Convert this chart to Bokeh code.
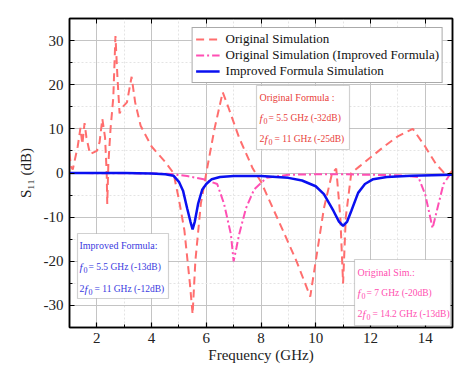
from bokeh.plotting import figure
from bokeh.models import (FixedTicker, LinearAxis, Range1d, Legend, LegendItem,
                          BoxAnnotation, Label)
from bokeh.embed import file_html
from bokeh.resources import INLINE

# ---------------- data ----------------
freq_orig = [1.0, 1.05, 1.12, 1.3, 1.4, 1.47, 1.55, 1.62, 1.75, 2.0, 2.1, 2.2, 2.3, 2.36,
             2.38, 2.42, 2.5, 2.6, 2.68, 2.75, 2.83, 2.95, 3.1, 3.27, 3.4, 3.6, 4.0, 4.5,
             4.8, 5.0, 5.2, 5.4, 5.5, 5.6, 5.8, 6.0, 6.3, 6.6, 6.8, 7.2, 7.7, 8.0, 8.4,
             8.8, 9.3, 9.8, 10.0, 10.3, 10.6, 10.75, 10.9, 11.0, 11.1, 11.3, 11.6, 12.0,
             12.5, 13.0, 13.55, 14.0, 14.4, 14.8, 15.0]
s11_orig = [4.5, 1.5, 0.8, 6.0, 10.2, 6.5, 11.3, 8.0, 4.3, 5.0, 7.0, 12.3, 8.0, 0.0,
            -7.0, 2.0, 10.0, 17.0, 31.0, 22.0, 13.5, 15.0, 16.0, 21.8, 16.0, 10.7, 6.0, 2.5,
            0.0, -6.0, -13.0, -25.0, -32.0, -20.0, -7.0, 0.0, 10.0, 18.3, 15.0, 8.0, 1.0, -2.0,
            -7.5, -13.0, -20.0, -28.0, -20.0, -8.0, 0.0, 1.0, -10.0, -25.0, -10.0, 0.0, 1.5,
            3.5, 6.0, 8.3, 10.0, 6.0, 2.0, -0.7, 0.5]

freq_orig_impr = [1.0, 4.0, 4.7, 5.3, 5.9, 6.4, 6.65, 6.9, 7.0, 7.1, 7.2, 7.45, 7.75, 8.2,
                  9.0, 10.0, 11.0, 12.0, 13.0, 13.75, 14.0, 14.15, 14.27, 14.45, 14.67,
                  14.9, 15.0]
s11_orig_impr = [0.0, -0.1, -0.2, -0.7, -1.4, -2.5, -7.0, -13.9, -20.0, -17.0, -13.9, -8.0,
                 -3.7, -1.1, -0.4, -0.3, -0.3, -0.4, -0.5, -0.9, -4.8, -9.0, -12.5, -8.0,
                 -2.5, -0.4, 0.0]

freq_impr = [1.0, 3.0, 4.0, 4.5, 4.8, 5.0, 5.15, 5.3, 5.42, 5.5, 5.58, 5.7, 5.85, 6.0, 6.2,
             6.5, 7.0, 8.0, 9.0, 9.5, 10.0, 10.3, 10.65, 10.85, 11.0, 11.15, 11.3, 11.55,
             11.8, 12.1, 12.6, 13.5, 15.0]
s11_impr = [0.0, 0.0, -0.1, -0.3, -0.6, -2.0, -4.0, -8.0, -11.0, -12.8, -11.0, -7.0, -3.8,
            -2.5, -1.4, -0.9, -0.7, -0.7, -1.1, -1.7, -3.0, -4.8, -8.6, -11.0, -12.0, -11.0,
            -8.6, -4.5, -2.5, -1.4, -0.9, -0.6, -0.4]

series_names = ["Original Simulation", "Original Simulation (Improved Formula)",
                "Improved Formula Simulation"]

x_major = [2, 4, 6, 8, 10, 12, 14]
x_minor = list(range(1, 16))
y_major = [-30, -20, -10, 0, 10, 20, 30]
y_labels = ["-30", "-20", "-10", "0", "10", "20", "30"]
y_minor = list(range(-35, 36, 5))

box_texts = {
    "orig_formula": ["Original Formula :", "= 5.5 GHz (-32dB)", "= 11 GHz (-25dB)"],
    "impr_formula": ["Improved Formula:", "= 5.5 GHz (-13dB)", "= 11 GHz (-12dB)"],
    "orig_sim": ["Original Sim.:", "= 7 GHz (-20dB)", "= 14.2 GHz (-13dB)"],
}

# ---------------- styling ----------------
SERIF = "Liberation Serif"
C_DASH = "#FF6E6E"
C_DASHDOT = "#FF4FB4"
C_BLUE = "#0A10F0"
TXT = "#222222"

X0, X1, Y0, Y1 = 1, 15, -35, 35
# frame in image pixels (reference): left 69, right 452, top 18, bottom 327
def px2x(px):
    return X0 + (px - 69) * (X1 - X0) / 383.0

def py2y(py):
    return Y1 - (py - 18) * (Y1 - Y0) / 309.0

p = figure(width=463, height=369, output_backend="svg", toolbar_location=None,
           x_range=Range1d(X0, X1), y_range=Range1d(Y0, Y1),
           min_border_left=69, min_border_right=11, min_border_top=18,
           min_border_bottom=42, background_fill_color="white",
           border_fill_color="white")
p.outline_line_color = "black"
p.outline_line_width = 1.5

xt = FixedTicker(ticks=x_major, minor_ticks=x_minor)
yt = FixedTicker(ticks=y_major, minor_ticks=y_minor)

def style_axis(ax):
    ax.axis_line_color = "black"
    ax.axis_line_width = 1.5
    ax.major_tick_in = 5
    ax.major_tick_out = 0
    ax.minor_tick_in = 3
    ax.minor_tick_out = 0
    ax.major_tick_line_color = "black"
    ax.minor_tick_line_color = "black"
    ax.major_tick_line_width = 1.2
    ax.minor_tick_line_width = 1
    ax.major_label_text_font = SERIF
    ax.major_label_text_color = TXT
    ax.major_label_text_font_size = "15px"
    ax.axis_label_text_font = SERIF
    ax.axis_label_text_font_style = "normal"
    ax.axis_label_text_font_size = "15px"
    ax.axis_label_text_color = TXT

xa = p.xaxis[0]
xa.ticker = xt
style_axis(xa)
xa.major_label_standoff = 5
xa.axis_label = "Frequency (GHz)"
xa.axis_label_standoff = 1

ya = p.yaxis[0]
ya.ticker = yt
style_axis(ya)
ya.major_label_overrides = {v: s for v, s in zip(y_major, y_labels)}
ya.major_label_standoff = 6
ya.axis_label = "S\u2081\u2081 (dB)"
ya.axis_label_standoff = 7

# mirrored tick marks (no labels) on top and right
top_ax = LinearAxis(ticker=FixedTicker(ticks=[], minor_ticks=x_major))
style_axis(top_ax)
top_ax.minor_tick_in = 5
p.add_layout(top_ax, "above")
right_ax = LinearAxis(ticker=FixedTicker(ticks=[], minor_ticks=y_major))
style_axis(right_ax)
right_ax.minor_tick_in = 5
p.add_layout(right_ax, "right")

p.xgrid.ticker = xt
p.ygrid.ticker = yt
p.xgrid.grid_line_color = "#c4c4c4"
p.ygrid.grid_line_color = "#c4c4c4"
p.xgrid.grid_line_width = 1
p.ygrid.grid_line_width = 1
p.xgrid.minor_grid_line_color = "#e4e4e4"
p.ygrid.minor_grid_line_color = "#e4e4e4"
p.xgrid.minor_grid_line_dash = "2 2"
p.ygrid.minor_grid_line_dash = "2 2"

# ---------------- lines ----------------
r1 = p.line(freq_orig, s11_orig, line_color=C_DASH, line_width=2, line_dash="8 5")
r2 = p.line(freq_orig_impr, s11_orig_impr, line_color=C_DASHDOT, line_width=2,
            line_dash="8 3 2 3")
r3 = p.line(freq_impr, s11_impr, line_color=C_BLUE, line_width=2.5)

legend = Legend(items=[LegendItem(label=series_names[0], renderers=[r1]),
                       LegendItem(label=series_names[1], renderers=[r2]),
                       LegendItem(label=series_names[2], renderers=[r3])],
                location="top_right", margin=9)
legend.label_text_font = SERIF
legend.label_text_font_size = "13px"
legend.label_text_color = "#111111"
legend.label_height = 14
legend.glyph_height = 14
legend.glyph_width = 24
legend.label_standoff = 6
legend.spacing = 0
legend.padding = 3
legend.border_line_color = "#555555"
legend.border_line_width = 1.2
legend.background_fill_color = "white"
legend.background_fill_alpha = 1
p.add_layout(legend)

# ---------------- annotation boxes ----------------
def info_box(l, t, r, b, x0, ys, texts, color):
    p.add_layout(BoxAnnotation(left=px2x(l), right=px2x(r), top=py2y(t), bottom=py2y(b),
                               fill_color="white", fill_alpha=1, line_color="#666666",
                               line_width=1.2))
    def lab(px, py, txt, size, style="normal"):
        p.add_layout(Label(x=px2x(px), y=py2y(py), text=txt, text_font=SERIF,
                           text_font_size=size, text_font_style=style,
                           text_color=color, text_baseline="middle", text_align="left"))
    lab(x0, ys[0], texts[0], "10px")
    # f0 line
    lab(x0, ys[1], "f", "11px", "italic")
    lab(x0 + 4, ys[1] + 3, "0", "8px")
    lab(x0 + 9, ys[1], texts[1], "9.5px")
    # 2f0 line
    lab(x0, ys[2], "2", "10px")
    lab(x0 + 5, ys[2], "f", "11px", "italic")
    lab(x0 + 9, ys[2] + 3, "0", "8px")
    lab(x0 + 15, ys[2], texts[2], "9.5px")

info_box(256, 85, 349, 149, 259, [97, 117, 138], box_texts["orig_formula"], "#E8403A")
info_box(77, 233, 168, 298, 79, [245, 266, 288], box_texts["impr_formula"], "#3A3AE0")
info_box(354, 259, 450, 325, 357, [272, 292, 313], box_texts["orig_sim"], "#FF4FB0")

open("out.html", "w").write(file_html(p, INLINE))
